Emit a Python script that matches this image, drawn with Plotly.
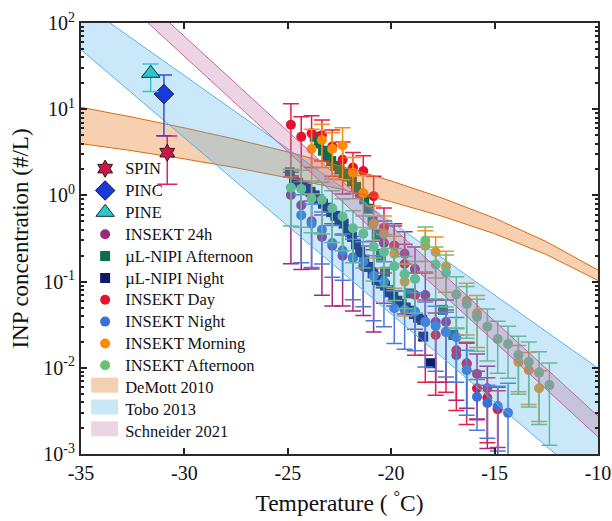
import plotly.graph_objects as go

# ---------------- data ----------------
# single-instrument points
spin_T, spin_N, spin_up, spin_dn = [-30.83], [3.13], [1.77], [1.78]
pinc_T, pinc_N, pinc_up, pinc_dn = [-30.99], [15.0], [9.9], [10.07]
pine_T, pine_N, pine_up, pine_dn = [-31.63], [26.1], [7.3], [10.1]

# INSEKT 24h
T_24h = [-24.85, -24.35, -23.85, -23.35, -22.85, -22.35, -21.85, -21.35, -20.85, -20.35, -19.85,
         -19.35, -18.85, -18.35, -17.85, -17.35, -16.85, -16.35, -15.85, -15.35, -14.85]
N_24h = [1.01, 0.77, 0.5, 0.33, 0.26, 0.20, 0.19, 0.15, 0.13, 0.28, 0.26,
         0.21, 0.14, 0.07, 0.034, 0.034, 0.014, 0.0113, 0.0085, 0.0058, 0.0034]
E_24h = [0.84, 0.82, 0.72, 0.79, 0.8, 0.74, 0.76, 0.73, 0.8, 0.8, 0.8,
         0.8, 0.8, 0.8, 0.8, 0.8, 0.7, 0.7, 0.7, 0.8, 0.75]

# uL-NIPI Afternoon
T_nipa = [-23.7, -23.5, -23.3, -23.1, -22.9, -22.7, -22.5, -22.3, -22.1, -21.9, -21.7,
          -21.5, -21.3, -21.1, -20.9, -20.7, -20.5, -20.3, -20.1, -19.1, -17.5, -17.0]
N_nipa = [4.8, 4.0, 3.3, 2.8, 2.5, 2.2, 2.0, 1.8, 1.65, 1.45, 1.25,
          1.05, 0.9, 0.7, 0.5, 0.35, 0.2, 0.13, 0.08, 0.073, 0.047, 0.024]

# uL-NIPI Night
T_nipn = [-24.9, -24.7, -24.5, -24.3, -24.1, -23.9, -23.7, -23.5, -23.3, -23.1, -22.9, -22.7,
          -22.5, -22.3, -22.1, -21.9, -21.7, -21.5, -21.3, -21.1, -20.9, -20.7, -20.5, -20.3,
          -20.1, -19.9, -19.7, -19.5, -19.3, -19.1, -18.9, -18.7, -18.5, -18.45, -18.1]
N_nipn = [1.85, 1.5, 1.4, 1.3, 1.2, 1.1, 1.0, 0.9, 0.8, 0.72, 0.64, 0.58,
          0.52, 0.47, 0.4, 0.33, 0.27, 0.22, 0.18, 0.148, 0.125, 0.104, 0.095, 0.09,
          0.075, 0.067, 0.06, 0.055, 0.05, 0.046, 0.042, 0.038, 0.036, 0.023, 0.0113]

# INSEKT Day
T_day = [-24.85, -24.35, -23.85, -23.35, -22.85, -22.35, -21.85, -21.35, -20.85, -20.35, -19.85,
         -19.35, -18.85, -18.35, -17.85, -17.35, -16.85, -16.35, -15.85, -15.35, -14.85]
N_day = [6.6, 4.8, 5.25, 5.0, 3.7, 2.6, 2.1, 1.92, 0.98, 0.42, 0.26,
         0.16, 0.07, 0.034, 0.024, 0.026, 0.016, 0.011, 0.0058, 0.0045, 0.0033]
E_day = [0.75, 0.7, 0.6, 0.5, 0.55, 0.6, 0.5, 0.5, 0.7, 0.7, 0.7,
         0.7, 0.8, 0.8, 0.8, 0.8, 0.8, 0.8, 0.57, 0.7, 0.64]

# INSEKT Night
T_night = [-24.35, -23.85, -23.35, -22.85, -22.35, -21.85, -21.35, -20.85, -20.35, -19.85, -19.35,
           -18.85, -18.35, -17.85, -17.35, -16.85, -16.35, -15.85, -15.35, -14.85, -14.35]
N_night = [0.59, 0.47, 0.40, 0.28, 0.23, 0.186, 0.17, 0.117, 0.10, 0.049, 0.047,
           0.045, 0.034, 0.0305, 0.026, 0.0226, 0.0094, 0.0046, 0.0039, 0.0036, 0.0030]
E_night = [0.72, 0.69, 0.6, 0.6, 0.55, 0.67, 0.7, 0.7, 0.7, 0.61, 0.65,
           0.65, 0.7, 0.7, 0.7, 0.7, 0.7, 0.59, 0.61, 0.7, 1.2]

# INSEKT Morning
T_morn = [-23.85, -23.35, -22.85, -22.35, -21.85, -21.35, -20.85, -20.35, -19.85, -19.35,
          -18.35, -17.85, -17.35, -16.35, -15.85, -13.85, -13.35, -12.85]
N_morn = [3.45, 4.4, 3.45, 3.8, 1.83, 1.06, 0.47, 0.36, 0.21, 0.10,
          0.26, 0.22, 0.15, 0.06, 0.043, 0.0117, 0.0094, 0.0058]
E_morn = [0.7, 0.52, 0.55, 0.6, 0.5, 0.6, 0.6, 0.6, 0.6, 0.6,
          0.5, 0.5, 0.5, 0.6, 0.6, 0.55, 0.6, 0.59]

# INSEKT Afternoon
T_aft = [-24.85, -24.35, -23.85, -23.35, -22.85, -22.35, -21.85, -21.35, -20.85, -20.35, -19.85,
         -19.35, -18.85, -18.35, -17.85, -17.35, -16.85, -16.35, -15.85, -15.35, -14.85, -14.35,
         -13.85, -13.35, -12.85, -12.35]
N_aft = [1.23, 1.19, 0.92, 0.89, 0.71, 0.57, 0.415, 0.36, 0.254, 0.22, 0.151,
         0.122, 0.107, 0.30, 0.158, 0.127, 0.071, 0.055, 0.039, 0.030, 0.0216, 0.0189,
         0.0141, 0.0117, 0.0088, 0.0063]
E_aft = [0.64, 0.64, 0.6, 0.6, 0.6, 0.6, 0.6, 0.6, 0.6, 0.6, 0.6,
         0.6, 0.6, 0.43, 0.6, 0.6, 0.6, 0.6, 0.6, 0.6, 0.6, 0.6,
         0.65, 0.7, 0.75, 0.8]

# parameterisation bands
demott_T = [-35, -32.5, -30, -27.5, -25, -22.5, -20, -17.5, -15, -12.5, -10]
demott_hi = [10.5, 8.07, 6.07, 4.47, 3.20, 2.21, 1.47, 0.925, 0.544, 0.291, 0.136]
demott_lo = [3.99, 3.29, 2.65, 2.09, 1.60, 1.19, 0.844, 0.569, 0.359, 0.206, 0.103]
tobo_T = [-35, -10]
tobo_hi = [173, 0.0099]
tobo_lo = [49, 0.00038]
sch_T = [-35, -10]
sch_hi = [885, 0.00275]
sch_lo = [521, 0.00158]

x_ticks = [-35, -30, -25, -20, -15, -10]
x_ticktext = ["-35", "-30", "-25", "-20", "-15", "-10"]
y_ticks = [1e-3, 1e-2, 1e-1, 1e0, 1e1, 1e2]
y_ticktext = ["10<sup>-3</sup>", "10<sup>-2</sup>", "10<sup>-1</sup>", "10<sup>0</sup>",
              "10<sup>1</sup>", "10<sup>2</sup>"]

FONT = "Liberation Serif"
LEG_SPAN = '<span style="font-size:16.5px">{}</span>'

# layout geometry (pixels)
W, H = 612, 521
ML, MR, MT, MB = 81, 14, 23, 67
PW, PH = W - ML - MR, H - MT - MB
LEG_FONT = 14.5
LEG_ITEM_H = LEG_FONT * 1.3 + 3          # plotly legend entry height
LEG_X = 0.008
LEG_Y = 0.699

fig = go.Figure()


def insekt(name, T, N, E, color, ecolor, rank, symbol="circle", size=10):
    err = [n * e for n, e in zip(N, E)]
    fig.add_trace(go.Scatter(
        x=T, y=N, mode="markers", name=LEG_SPAN.format(name), legendrank=rank,
        marker=dict(symbol=symbol, size=size, color=color, line=dict(width=0)),
        error_y=dict(type="data", array=err, symmetric=True, color=ecolor,
                     thickness=1.5, width=8)))


insekt("INSEKT 24h", T_24h, N_24h, E_24h, "#9a2a7c", "#a2287c", 4)
fig.add_trace(go.Scatter(x=T_nipa, y=N_nipa, mode="markers", name=LEG_SPAN.format("µL-NIPI Afternoon"),
                         legendrank=5,
                         marker=dict(symbol="square", size=10, color="#0b6e50", line=dict(width=0))))
fig.add_trace(go.Scatter(x=T_nipn, y=N_nipn, mode="markers", name=LEG_SPAN.format("µL-NIPI Night"),
                         legendrank=6,
                         marker=dict(symbol="square", size=10, color="#0d1b6b", line=dict(width=0))))
insekt("INSEKT Day", T_day, N_day, E_day, "#e8112d", "#e0204a", 7)
insekt("INSEKT Night", T_night, N_night, E_night, "#3a70d8", "#4a78dc", 8)
insekt("INSEKT Morning", T_morn, N_morn, E_morn, "#ff8a00", "#f5901a", 9)
insekt("INSEKT Afternoon", T_aft, N_aft, E_aft, "#6dbd72", "#73b979", 10)

shapes = []


def band(name, T, hi, lo, fillc, linec, rank, swatch):
    fig.add_trace(go.Scatter(
        x=list(T) + list(T)[::-1], y=list(hi) + list(lo)[::-1],
        mode="lines", fill="toself", fillcolor=fillc, showlegend=False,
        line=dict(color="rgba(0,0,0,0)", width=0), hoverinfo="skip"))
    for edge in (hi, lo):
        fig.add_trace(go.Scatter(x=T, y=edge, mode="lines", showlegend=False,
                                 line=dict(color=linec, width=1), hoverinfo="skip"))
    # legend entry (text), swatch drawn as a rectangle over the legend slot
    fig.add_trace(go.Scatter(x=[None], y=[None], mode="lines", fill="toself",
                             fillcolor="rgba(0,0,0,0)", line=dict(color="rgba(0,0,0,0)", width=0),
                             name=LEG_SPAN.format(name), legendrank=rank))
    idx = rank - 1
    top_px = MT + (1 - LEG_Y) * PH
    yc = top_px + 5 + LEG_ITEM_H * (idx + 0.5) - 2
    lx = ML + LEG_X * PW
    shapes.append(dict(type="rect", xref="paper", yref="paper", layer="above",
                       x0=(lx + 6 - ML) / PW, x1=(lx + 33 - ML) / PW,
                       y0=(H - MB - (yc + 7.5)) / PH, y1=(H - MB - (yc - 7.5)) / PH,
                       fillcolor=swatch, line=dict(width=0)))


band("DeMott 2010", demott_T, demott_hi, demott_lo, "rgba(230,120,30,0.35)", "#d9690f", 11,
     "rgb(243,208,178)")
band("Tobo 2013", tobo_T, tobo_hi, tobo_lo, "rgba(80,180,235,0.30)", "#58b2e6", 12,
     "rgb(202,231,248)")
band("Schneider 2021", sch_T, sch_hi, sch_lo, "rgba(190,100,150,0.28)", "#c8649e", 13,
     "rgb(236,212,226)")

fig.add_trace(go.Scatter(
    x=spin_T, y=spin_N, mode="markers", name=LEG_SPAN.format("SPIN"), legendrank=1,
    marker=dict(symbol="hexagram", size=13, color="#c81848", line=dict(color="#3a1020", width=1)),
    error_y=dict(type="data", array=spin_up, arrayminus=spin_dn, color="#e0206a",
                 thickness=1.5, width=10)))
fig.add_trace(go.Scatter(
    x=pinc_T, y=pinc_N, mode="markers", name=LEG_SPAN.format("PINC"), legendrank=2,
    marker=dict(symbol="diamond", size=15, color="#1a3ad8", line=dict(color="#101840", width=1)),
    error_y=dict(type="data", array=pinc_up, arrayminus=pinc_dn, color="#3050e0",
                 thickness=1.5, width=8)))
fig.add_trace(go.Scatter(
    x=pine_T, y=pine_N, mode="markers", name=LEG_SPAN.format("PINE"), legendrank=3,
    marker=dict(symbol="triangle-up", size=16, color="#2ec4c8", line=dict(color="#103038", width=1)),
    error_y=dict(type="data", array=pine_up, arrayminus=pine_dn, color="#30c8d0",
                 thickness=1.5, width=8)))

minor_vals = [m * d for d in [1e-3, 1e-2, 1e-1, 1e0, 1e1] for m in range(2, 10)]

fig.update_layout(
    width=W, height=H,
    margin=dict(l=ML, r=MR, t=MT, b=MB),
    paper_bgcolor="white", plot_bgcolor="white",
    font=dict(family=FONT, color="#111", size=19),
    showlegend=True,
    shapes=shapes,
    legend=dict(x=LEG_X, y=LEG_Y, xanchor="left", yanchor="top",
                bgcolor="rgba(0,0,0,0)", font=dict(family=FONT, size=LEG_FONT, color="#111"),
                tracegroupgap=0, itemsizing="trace"),
    xaxis=dict(range=[-35, -10], tickvals=x_ticks, ticktext=x_ticktext, automargin=False,
               ticks="inside", ticklen=6, tickwidth=1.5, tickcolor="#222",
               showline=True, linecolor="#2a2a2a", linewidth=2, mirror="allticks",
               showgrid=False, zeroline=False,
               tickfont=dict(family=FONT, size=20),
               title=dict(text="Temperature ( <sup>°</sup>C)", font=dict(family=FONT, size=23.5),
                          standoff=12)),
    yaxis=dict(type="log", range=[-3, 2], tickvals=y_ticks, ticktext=y_ticktext, automargin=False,
               ticks="inside", ticklen=6, tickwidth=1.5, tickcolor="#222",
               minor=dict(tickvals=minor_vals, ticks="inside", ticklen=3, tickcolor="#222"),
               showline=True, linecolor="#2a2a2a", linewidth=2, mirror="allticks",
               showgrid=False, zeroline=False,
               tickfont=dict(family=FONT, size=20),
               title=dict(text="INP concentration (#/L)", font=dict(family=FONT, size=23),
                          standoff=8)),
)

fig.write_html("out.html")
